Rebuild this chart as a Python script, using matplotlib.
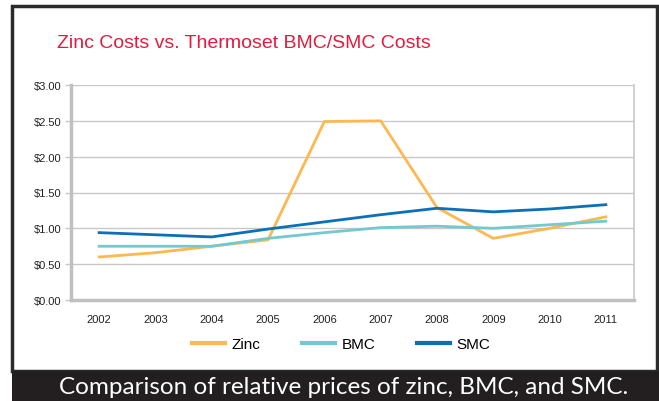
import matplotlib
matplotlib.use("Agg")
import matplotlib.pyplot as plt
from matplotlib.patches import Rectangle
from matplotlib import font_manager

years = ["2002", "2003", "2004", "2005", "2006", "2007", "2008", "2009", "2010", "2011"]
zinc = [0.60, 0.66, 0.75, 0.84, 2.49, 2.50, 1.29, 0.86, 1.00, 1.16]
bmc = [0.75, 0.75, 0.75, 0.86, 0.94, 1.01, 1.03, 1.00, 1.05, 1.10]
smc = [0.94, 0.91, 0.88, 0.99, 1.09, 1.19, 1.28, 1.23, 1.27, 1.33]
yticks = [0.0, 0.5, 1.0, 1.5, 2.0, 2.5, 3.0]
ytick_labels = ["$0.00", "$0.50", "$1.00", "$1.50", "$2.00", "$2.50", "$3.00"]

names = {f.name for f in font_manager.fontManager.ttflist}
narrow = "Liberation Sans Narrow" if "Liberation Sans Narrow" in names else "Liberation Sans"
cap_font = "Lato"

W, H = 659, 402
fig = plt.figure(figsize=(W / 100, H / 100), dpi=100)

def fx(px):
    return px / W

def fy(py):
    return 1 - py / H

# outer frame
fig.add_artist(Rectangle((fx(12), fy(372)), fx(657) - fx(12), fy(7) - fy(372),
                         transform=fig.transFigure, fill=False, edgecolor="#2b2b2b", lw=2.5))
# caption band
fig.add_artist(Rectangle((fx(12), 0), 1 - fx(12), fy(372),
                         transform=fig.transFigure, facecolor="#231f20", edgecolor="none"))
fig.text(fx(344), fy(388), "Comparison of relative prices of zinc, BMC, and SMC.",
         color="white", fontsize=17.5, family=cap_font, ha="center", va="center")

fig.text(fx(57), fy(43), "Zinc Costs vs. Thermoset BMC/SMC Costs", color="#e31c3d",
         fontsize=14, family=narrow, ha="left", va="center")

ax = fig.add_axes([fx(71), fy(301), fx(634) - fx(71), fy(86) - fy(301)])
x = list(range(len(years)))
ax.plot(x, zinc, color="#fdb94f", lw=2, label="Zinc")
ax.plot(x, bmc, color="#72c9cf", lw=2, label="BMC")
ax.plot(x, smc, color="#0a71b9", lw=2, label="SMC")

ax.set_xlim(-0.5, len(years) - 0.5)
ax.set_ylim(0, 3)
ax.set_xticks(x)
ax.set_xticklabels(years, fontsize=8, family=narrow, color="#222222")
ax.set_yticks(yticks)
ax.set_yticklabels(ytick_labels, fontsize=8, family=narrow, color="#222222")
ax.tick_params(axis="x", length=0, pad=10)
ax.tick_params(axis="y", length=4, color="#c8c8c8", width=1, pad=3)
ax.grid(axis="y", color="#c8c8c8", lw=1)
ax.set_axisbelow(True)
ax.spines["top"].set_visible(False)
ax.spines["left"].set_color("#c0c0c0")
ax.spines["left"].set_linewidth(2.5)
ax.spines["bottom"].set_color("#c0c0c0")
ax.spines["bottom"].set_linewidth(2.5)
ax.spines["right"].set_color("#c8c8c8")
ax.spines["right"].set_linewidth(1.2)

leg = fig.legend(loc="center", bbox_to_anchor=(fx(341), fy(345)), ncol=3, frameon=False,
                 prop={"family": narrow, "size": 11}, handlelength=2.2, columnspacing=2.7,
                 handletextpad=0.4)
for line in leg.get_lines():
    line.set_linewidth(3)

fig.savefig("out.png", dpi=100)
